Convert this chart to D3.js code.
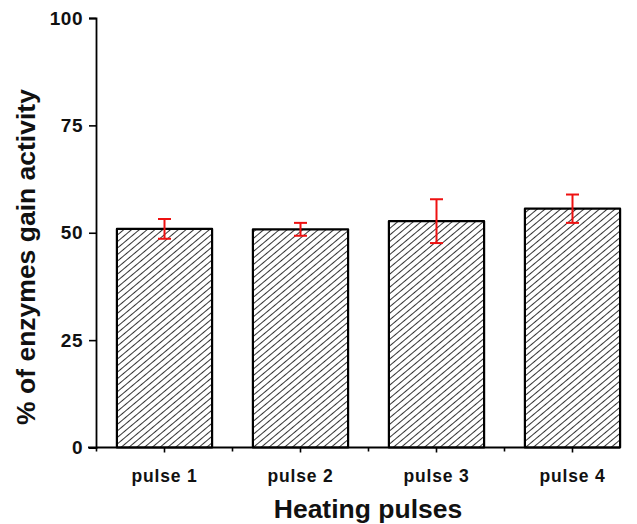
<!DOCTYPE html>
<html>
<head>
<meta charset="utf-8">
<script src="https://cdn.jsdelivr.net/npm/d3@7"></script>
<style>
  body { margin: 0; background: #fff; }
  text { font-family: "Liberation Sans", Arial, sans-serif; font-weight: bold; fill: #111; }
</style>
</head>
<body>
<svg id="chart" width="637" height="524"></svg>
<script>
(function(){

  const categories = ['pulse 1', 'pulse 2', 'pulse 3', 'pulse 4']
  const values = [50.9, 50.8, 52.7, 55.6]
  const errors = [2.3, 1.5, 5.1, 3.3]
  const yTicks = [0, 25, 50, 75, 100]
  const yMinorTicks = [12.5, 37.5, 62.5, 87.5]

  const svg = d3.select('#chart')

  // hatch fill
  const pat = svg.append('defs').append('pattern')
      .attr('id', 'hatch').attr('patternUnits', 'userSpaceOnUse')
      .attr('width', 5).attr('height', 5)
      .attr('patternTransform', 'rotate(50)')
  pat.append('line')
      .attr('x1', 0).attr('y1', 0).attr('x2', 0).attr('y2', 5)
      .attr('stroke', '#000').attr('stroke-width', 1.6)

  const x = d3.scaleBand().domain(categories)
      .range([96.5, 640.5]).paddingInner(0.3).paddingOuter(0.15)
  const y = d3.scaleLinear().domain([0, 100]).range([447.5, 18])

  // bars
  svg.append('g').selectAll('rect').data(values).enter().append('rect')
      .attr('x', (d, i) => x(categories[i]))
      .attr('width', x.bandwidth())
      .attr('y', d => y(d))
      .attr('height', d => y(0) - y(d))
      .attr('fill', 'url(#hatch)')
      .attr('stroke', '#000').attr('stroke-width', 2.2)
      .attr('stroke-linejoin', 'round')

  // error bars
  const eb = svg.append('g').attr('stroke', '#ee1111').attr('stroke-width', 2)
  values.forEach(function(v, i) {
    const cx = x(categories[i]) + x.bandwidth() / 2
    eb.append('line').attr('x1', cx).attr('x2', cx)
        .attr('y1', y(v + errors[i])).attr('y2', y(v - errors[i]))
    eb.append('line').attr('x1', cx - 6.5).attr('x2', cx + 6.5)
        .attr('y1', y(v + errors[i])).attr('y2', y(v + errors[i]))
    eb.append('line').attr('x1', cx - 6.5).attr('x2', cx + 6.5)
        .attr('y1', y(v - errors[i])).attr('y2', y(v - errors[i]))
  })

  // y axis
  const yAxis = svg.append('g').attr('transform', 'translate(96,0)')
  yAxis.call(d3.axisLeft(y).tickValues(yMinorTicks).tickSize(3).tickFormat(''))
  yAxis.call(d3.axisLeft(y).tickValues(yTicks).tickSize(7).tickPadding(6))
  yAxis.selectAll('.domain').attr('stroke-width', 1.8)
  yAxis.selectAll('line').attr('stroke-width', 1.6)
  yAxis.selectAll('text').attr('font-size', 19).attr('fill', '#111')
      .style('letter-spacing', '0.5px')

  // x axis
  const xAxis = svg.append('g').attr('transform', 'translate(0,447.5)')
  xAxis.append('line').attr('x1', 88).attr('x2', 620)
      .attr('stroke', '#000').attr('stroke-width', 1.8)
  const centers = categories.map(c => x(c) + x.bandwidth() / 2)
  const bounds = categories.map((c, i) => 96.5 + i * x.step())
  xAxis.selectAll('.major').data(centers).enter().append('line')
      .attr('x1', d => d).attr('x2', d => d).attr('y1', 0).attr('y2', 5)
      .attr('stroke', '#000').attr('stroke-width', 1.6)
  xAxis.selectAll('.minor').data(bounds).enter().append('line')
      .attr('x1', d => d).attr('x2', d => d).attr('y1', 0).attr('y2', 4)
      .attr('stroke', '#000').attr('stroke-width', 1.6)
  xAxis.selectAll('text').data(categories).enter().append('text')
      .attr('x', (d, i) => centers[i]).attr('y', 34)
      .attr('text-anchor', 'middle').attr('font-size', 17.5)
      .style('letter-spacing', '0.8px')
      .text(d => d)

  // titles
  svg.append('text').attr('x', 368).attr('y', 518)
      .attr('text-anchor', 'middle').attr('font-size', 26.5)
      .text('Heating pulses')
  svg.append('text')
      .attr('transform', 'translate(35,257) rotate(-90)')
      .attr('text-anchor', 'middle').attr('font-size', 26.5)
      .text('% of enzymes gain activity')

})()
</script>
</body>
</html>
